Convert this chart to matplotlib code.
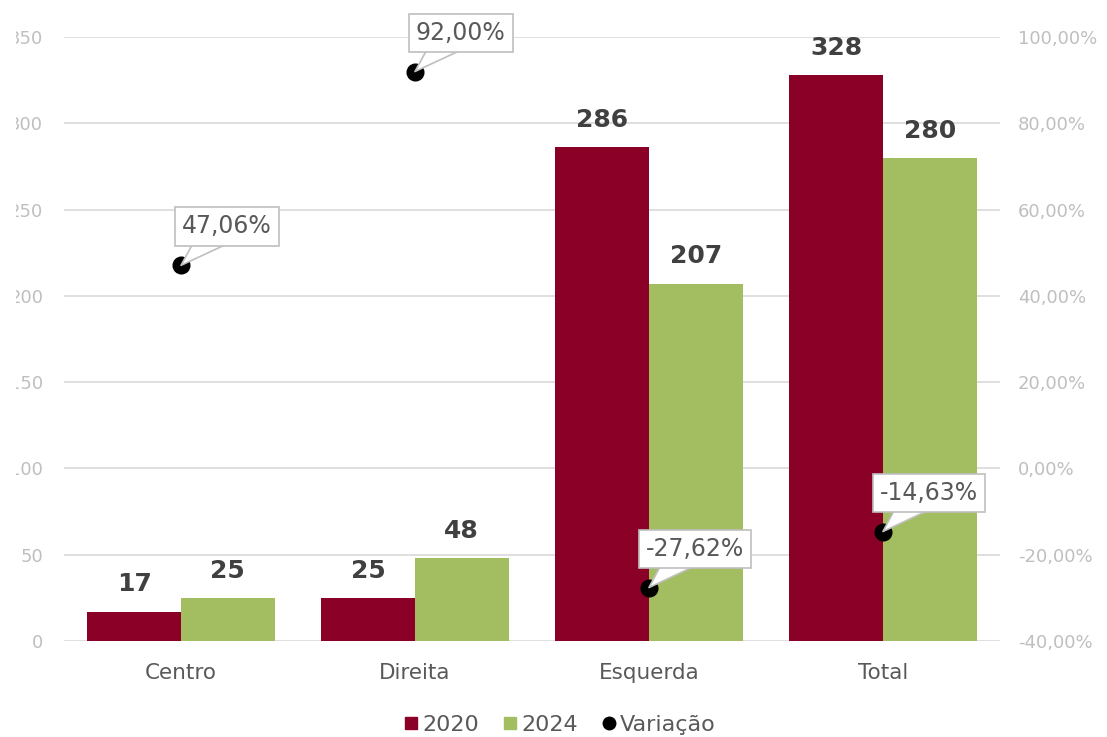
import matplotlib
matplotlib.use("Agg")
import matplotlib.pyplot as plt
from matplotlib.lines import Line2D
from matplotlib.transforms import Bbox, TransformedBbox
import numpy as np

# dados
categorias = ['Centro', 'Direita', 'Esquerda', 'Total']
anos = ['2020', '2024']
v2020 = [17, 25, 286, 328]
v2024 = [25, 48, 207, 280]
variacao = [47.06, 92.00, -27.62, -14.63]
yticks_esq = [0, 50, 100, 150, 200, 250, 300, 350]
yticks_dir = [-40, -20, 0, 20, 40, 60, 80, 100]

cor2020 = '#8A0026'
cor2024 = '#A3BE60'
cinza_txt = '#595959'
cinza_eixo = '#BFBFBF'
cinza_grid = '#D9D9D9'

plt.rcParams['font.family'] = ['DejaVu Sans']

fig = plt.figure(figsize=(11.07, 7.37), dpi=100)
ax = fig.add_axes([0.0578, 0.1303, 0.8455, 0.8195])
ax2 = ax.twinx()

x = np.arange(len(categorias))
w = 0.4
b1 = ax.bar(x - w/2, v2020, w, color=cor2020, zorder=2)
b2 = ax.bar(x + w/2, v2024, w, color=cor2024, zorder=2)

for bars, vals in ((b1, v2020), (b2, v2024)):
    for r, v in zip(bars, vals):
        ax.annotate(str(v), (r.get_x() + r.get_width()/2, v), xytext=(0, 11),
                    textcoords='offset points', ha='center', va='bottom',
                    fontsize=18, fontweight='bold', color='#404040')

ax.set_xlim(-0.5, 3.5)
ax.set_ylim(0, 350)
ax.set_yticks(yticks_esq)
ax.set_xticks(x)
ax.set_xticklabels(categorias, fontsize=15.5, color=cinza_txt)
ax.tick_params(axis='x', length=0, pad=16)
ax.tick_params(axis='y', length=0, pad=15, labelsize=13, labelcolor=cinza_eixo)
ax.yaxis.grid(True, color=cinza_grid, lw=1.2, zorder=0)
ax.set_axisbelow(True)

# pontos de variacao com balao
ax2.plot(x, variacao, 'o', color='black', markersize=12, zorder=3, clip_on=False)
for xi, v in zip(x, variacao):
    txt = f'{v:.2f}%'.replace('.', ',')
    ax2.annotate(txt, (xi, v), xytext=(33, 28), textcoords='offset points',
                 ha='center', va='center', fontsize=17, color=cinza_txt, zorder=4,
                 bbox=dict(boxstyle='square,pad=0.3', fc='white', ec=cinza_eixo, lw=1.2),
                 arrowprops=dict(arrowstyle='wedge,tail_width=1.0,shrink_factor=0.5',
                                 mutation_scale=27,
                                 fc='white', ec=cinza_eixo, lw=1.2, patchA=None,
                                 relpos=(0.45, 0.5), shrinkA=0, shrinkB=0))
ax2.set_ylim(-40, 100)
ax2.set_yticks(yticks_dir)
ax2.set_yticklabels([f'{t:.2f}%'.replace('.', ',') for t in yticks_dir])
ax2.tick_params(axis='y', length=0, pad=13, labelsize=13, labelcolor=cinza_eixo)

for a in (ax, ax2):
    for s in a.spines.values():
        s.set_visible(False)

# imagem original cortada na esquerda
clip = TransformedBbox(Bbox([[0.0145, 0], [1, 1]]), fig.transFigure)
for lbl in ax.get_yticklabels():
    lbl.set_clip_box(clip)
    lbl.set_clip_on(True)

handles = [Line2D([], [], ls='none', marker='s', color=cor2020, markersize=9),
           Line2D([], [], ls='none', marker='s', color=cor2024, markersize=9),
           Line2D([], [], ls='none', marker='o', color='black', markersize=9)]
leg = fig.legend(handles, anos + ['Variação'], loc='center', bbox_to_anchor=(0.505, 0.016),
                 ncol=3, frameon=False, fontsize=16, handletextpad=0.1,
                 columnspacing=1.0, handlelength=0.8)
for t in leg.get_texts():
    t.set_color(cinza_txt)

fig.savefig('out.png', dpi=100)
